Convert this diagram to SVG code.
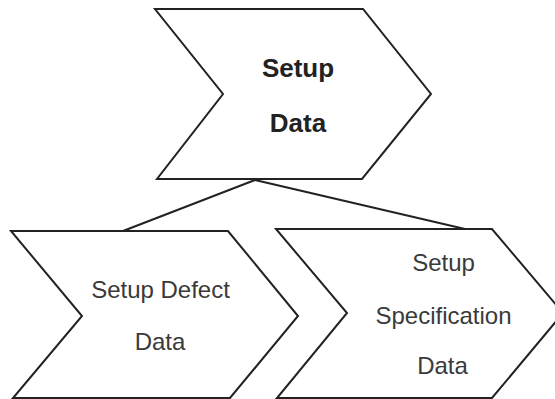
<svg xmlns="http://www.w3.org/2000/svg" width="555" height="399" viewBox="0 0 555 399">
<style>
.shape{fill:#fff;stroke:#222;stroke-width:2;stroke-linejoin:miter}
.conn{fill:none;stroke:#222;stroke-width:2}
.t{font-family:"Liberation Sans",Arial,sans-serif;font-size:24px;fill:#3a3a3a;text-anchor:middle}
.tb{font-family:"Liberation Sans",Arial,sans-serif;font-size:26px;font-weight:bold;fill:#222;text-anchor:middle}
</style>
<rect width="555" height="399" fill="#fff"/>
<g id="connectors">
<path class="conn" d="M255,180 L123,231"/>
<path class="conn" d="M255,180 L465,229"/>
</g>
<g id="setup-data">
<path class="shape" d="M155,9 L363,9 L431,94 L362,179 L157,179 L223,94 Z"/>
<text class="tb" x="298" y="77">Setup</text>
<text class="tb" x="298" y="132">Data</text>
</g>
<g id="setup-defect-data">
<path class="shape" d="M11,231 L228,231 L298,316 L230,398 L13,398 L82,316 Z"/>
<text class="t" x="160.5" y="298">Setup Defect</text>
<text class="t" x="160" y="350">Data</text>
</g>
<g id="setup-specification-data">
<path class="shape" d="M276,229 L492,229 L563,313 L492,398 L277,398 L347,313 Z"/>
<text class="t" x="443.5" y="271">Setup</text>
<text class="t" x="443.5" y="324">Specification</text>
<text class="t" x="442.5" y="374">Data</text>
</g>
</svg>
